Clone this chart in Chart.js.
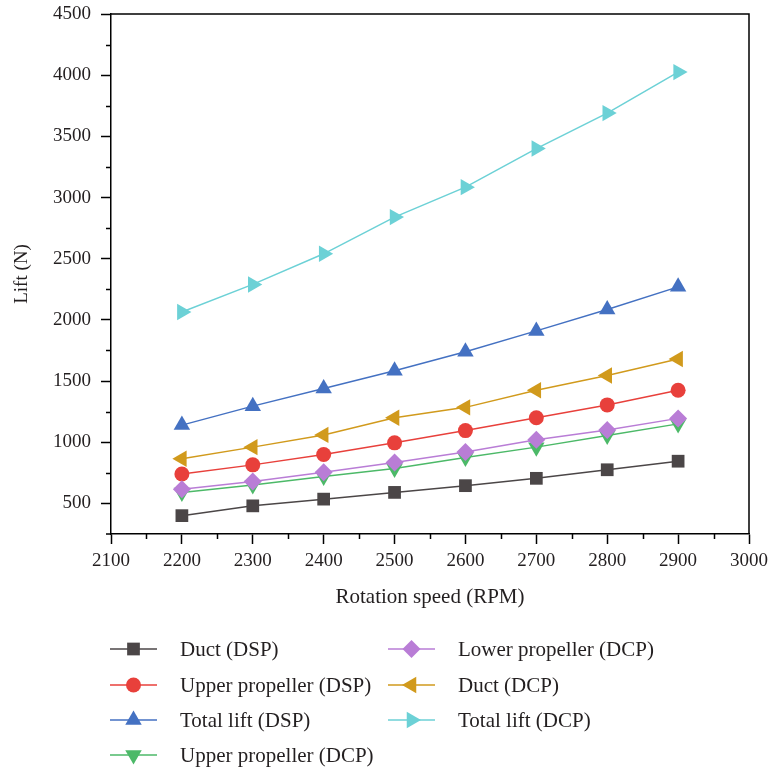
<!DOCTYPE html>
<html>
<head>
<meta charset="utf-8">
<script src="https://cdn.jsdelivr.net/npm/chart.js@4.4.0/dist/chart.umd.min.js"></script>
<style>
  html, body { margin: 0; padding: 0; background: #fff; }
  #wrap { width: 771px; height: 769px; }
</style>
</head>
<body>
<div id="wrap"><canvas id="liftChart" width="771" height="769"></canvas></div>
<script>
// rotation speed (RPM)
const rpm = [2200, 2300, 2400, 2500, 2600, 2700, 2800, 2900];

// lift (N)
const ductDSP = [400, 480, 535, 590, 645, 705, 775, 845];
const upperDSP = [740, 815, 900, 995, 1095, 1200, 1305, 1425];
const totalDSP = [1140, 1295, 1440, 1585, 1740, 1910, 2085, 2270];
const upperDCP = [590, 650, 720, 785, 875, 960, 1055, 1150];
const lowerDCP = [615, 680, 755, 835, 920, 1020, 1100, 1195];
const ductDCP = [865, 960, 1060, 1200, 1285, 1425, 1545, 1680];
const totalDCP = [2065, 2290, 2540, 2840, 3085, 3400, 3690, 4025];

const xTicks = [2100, 2200, 2300, 2400, 2500, 2600, 2700, 2800, 2900, 3000];
const yTicks = [500, 1000, 1500, 2000, 2500, 3000, 3500, 4000, 4500];

const FONT = '"Liberation Serif", "DejaVu Serif", serif';
const INK = '#231f20';

const series = [
  { label: 'Duct (DSP)', data: ductDSP, color: '#4b4647', style: 'rect', radius: 9, rot: 0 },
  { label: 'Upper propeller (DSP)', data: upperDSP, color: '#e8403b', style: 'circle', radius: 7.5, rot: 0 },
  { label: 'Total lift (DSP)', data: totalDSP, color: '#4471c2', style: 'triangle', radius: 9.5, rot: 0 },
  { label: 'Upper propeller (DCP)', data: upperDCP, color: '#4cb968', style: 'triangle', radius: 9.5, rot: 180 },
  { label: 'Lower propeller (DCP)', data: lowerDCP, color: '#b97dd6', style: 'rectRot', radius: 9, rot: 0 },
  { label: 'Duct (DCP)', data: ductDCP, color: '#d19a1c', style: 'triangle', radius: 9.5, rot: 270 },
  { label: 'Total lift (DCP)', data: totalDCP, color: '#6cd1d6', style: 'triangle', radius: 9.5, rot: 90 }
];

// minor ticks halfway between the major ones, plus the closing frame
const framePlugin = {
  id: 'frame',
  afterDraw(chart) {
    const { ctx, chartArea: a, scales: { x, y } } = chart;
    ctx.save();
    ctx.strokeStyle = '#000';
    ctx.lineWidth = 1.5;
    ctx.beginPath();
    ctx.moveTo(a.left, a.top);
    ctx.lineTo(a.right, a.top);
    ctx.lineTo(a.right, a.bottom);
    ctx.stroke();
    ctx.beginPath();
    for (let v = x.min + 50; v < x.max; v += 100) {
      const px = Math.round(x.getPixelForValue(v)) + 0.5;
      ctx.moveTo(px, a.bottom);
      ctx.lineTo(px, a.bottom + 5);
    }
    for (let v = 750; v < y.max; v += 500) {
      const py = Math.round(y.getPixelForValue(v)) + 0.5;
      ctx.moveTo(a.left, py);
      ctx.lineTo(a.left - 5, py);
    }
    ctx.moveTo(a.left, a.bottom);
    ctx.lineTo(a.left - 5, a.bottom);
    ctx.stroke();
    ctx.restore();
  }
};

// two-column legend under the x axis, filled column by column
const legendPlugin = {
  id: 'columnLegend',
  afterDraw(chart) {
    const ctx = chart.ctx;
    const cols = [110, 388];
    const rows = [649, 685, 720, 755];
    ctx.save();
    ctx.font = '21px ' + FONT;
    ctx.textBaseline = 'middle';
    series.forEach((s, i) => {
      const col = i < 4 ? 0 : 1;
      const row = i < 4 ? i : i - 4;
      const x0 = cols[col];
      const yy = rows[row];
      ctx.strokeStyle = s.color;
      ctx.lineWidth = 1.5;
      ctx.beginPath();
      ctx.moveTo(x0, yy);
      ctx.lineTo(x0 + 47, yy);
      ctx.stroke();
      ctx.fillStyle = s.color;
      Chart.helpers.drawPoint(ctx, { pointStyle: s.style, radius: s.radius, rotation: s.rot, borderWidth: 0 }, x0 + 23.5, yy);
      ctx.fillStyle = INK;
      ctx.fillText(s.label, x0 + 70, yy + 1);
    });
    ctx.restore();
  }
};

new Chart(document.getElementById('liftChart'), {
  type: 'line',
  data: {
    datasets: series.map((s, i) => ({
      label: s.label,
      data: rpm.map((r, k) => ({ x: r, y: s.data[k] })),
      borderColor: s.color,
      backgroundColor: s.color,
      pointBackgroundColor: s.color,
      pointBorderWidth: 0,
      borderWidth: 1.5,
      pointStyle: s.style,
      pointRadius: s.radius,
      pointRotation: s.rot,
      tension: 0,
      order: 10 - i
    }))
  },
  options: {
    responsive: false,
    animation: false,
    devicePixelRatio: 1,
    layout: { padding: { left: 0, right: 22, top: 14, bottom: 155 } },
    plugins: {
      legend: { display: false },
      tooltip: { enabled: false }
    },
    scales: {
      x: {
        type: 'linear',
        min: 2100,
        max: 3000,
        afterBuildTicks: s => { s.ticks = xTicks.map(v => ({ value: v })); },
        afterFit: s => { s.height = 80; s.paddingLeft = 0; s.paddingRight = 0; },
        grid: { drawOnChartArea: false, tickLength: 10, tickColor: '#000', tickWidth: 1.5 },
        border: { color: '#000', width: 1.5 },
        ticks: { color: INK, font: { family: FONT, size: 19 }, padding: 6, maxRotation: 0, callback: v => String(v) },
        title: { display: true, text: 'Rotation speed (RPM)', color: INK, font: { family: FONT, size: 21 }, padding: { top: 5 } }
      },
      y: {
        type: 'linear',
        min: 250,
        max: 4500,
        afterBuildTicks: s => { s.ticks = yTicks.map(v => ({ value: v })); },
        afterFit: s => { s.width = 111; s.paddingTop = 0; s.paddingBottom = 0; },
        grid: { drawOnChartArea: false, tickLength: 10, tickColor: '#000', tickWidth: 1.5 },
        border: { color: '#000', width: 1.5 },
        ticks: { color: INK, font: { family: FONT, size: 19 }, padding: 10, callback: v => String(v) },
        title: { display: true, text: 'Lift (N)', color: INK, font: { family: FONT, size: 19 }, padding: { top: 11, bottom: 0 } }
      }
    }
  },
  plugins: [framePlugin, legendPlugin]
});
</script>
</body>
</html>
